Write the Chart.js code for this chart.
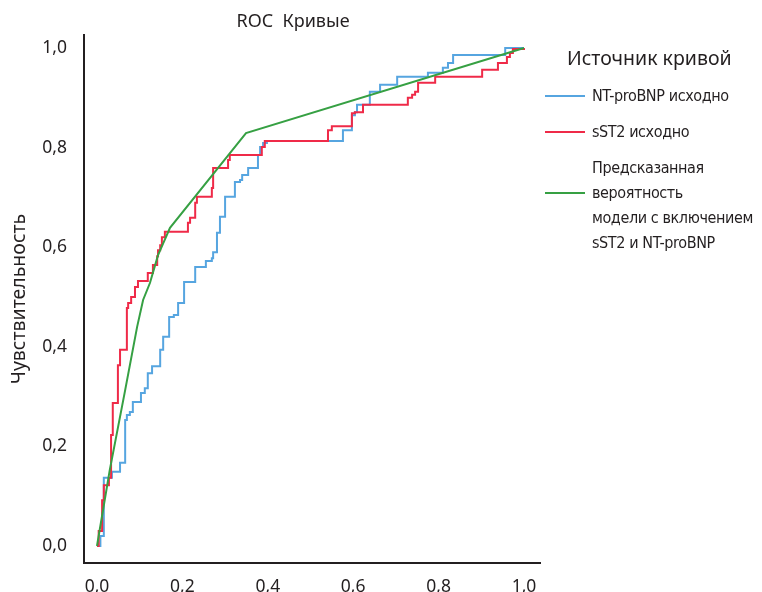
<!DOCTYPE html>
<html>
<head>
<meta charset="utf-8">
<script src="https://cdn.jsdelivr.net/npm/chart.js@4.4.1/dist/chart.umd.min.js"></script>
<style>
  html, body { margin: 0; padding: 0; background: #fff; }
  #wrap { position: relative; width: 762px; height: 592px; }
  #legend { position: absolute; left: 545px; top: 45px; color: #231f20; }
  #legend .lg-title { font-family: "Noto Sans", "Open Sans", sans-serif; font-size: 19.5px; line-height: 26px; margin-left: 22px; margin-bottom: 12px; }
  #legend .item { position: relative; margin-bottom: 11px; }
  #legend .swatch { position: absolute; left: 0; width: 40px; height: 2px; }
  #legend .text { margin-left: 47px; font-family: "Liberation Sans Narrow", "DejaVu Sans Condensed", Roboto, sans-serif; font-size: 16px; letter-spacing: -0.4px; line-height: 25px; }
</style>
</head>
<body>
<div id="wrap">
  <canvas id="rocChart" width="762" height="592"></canvas>
  <div id="legend"></div>
</div>
<script>
const tickValues = [0, 0.2, 0.4, 0.6, 0.8, 1.0];

const ntProBnpFpr = [0, 0.008, 0.016, 0.035, 0.054, 0.066, 0.070, 0.077, 0.084, 0.103, 0.112, 0.119, 0.129, 0.148, 0.155, 0.169, 0.180, 0.190, 0.204, 0.230, 0.255, 0.269, 0.272, 0.281, 0.288, 0.300, 0.323, 0.335, 0.340, 0.354, 0.377, 0.382, 0.389, 0.398, 0.576, 0.597, 0.604, 0.609, 0.639, 0.663, 0.703, 0.775, 0.810, 0.822, 0.834, 0.956, 1.0];
const ntProBnpTpr = [0, 0.020, 0.137, 0.149, 0.167, 0.253, 0.263, 0.269, 0.289, 0.307, 0.317, 0.347, 0.361, 0.394, 0.420, 0.460, 0.464, 0.488, 0.530, 0.560, 0.572, 0.578, 0.590, 0.629, 0.661, 0.701, 0.731, 0.735, 0.745, 0.759, 0.785, 0.801, 0.809, 0.813, 0.835, 0.865, 0.871, 0.886, 0.912, 0.926, 0.942, 0.950, 0.960, 0.970, 0.986, 1.0, 1.0];

const sst2Fpr = [0, 0.004, 0.012, 0.016, 0.028, 0.033, 0.037, 0.049, 0.054, 0.070, 0.073, 0.080, 0.089, 0.096, 0.119, 0.131, 0.141, 0.143, 0.148, 0.152, 0.159, 0.213, 0.218, 0.230, 0.234, 0.269, 0.272, 0.307, 0.311, 0.386, 0.393, 0.541, 0.550, 0.597, 0.604, 0.623, 0.728, 0.738, 0.745, 0.752, 0.792, 0.902, 0.939, 0.960, 0.967, 0.974, 1.0];
const sst2Tpr = [0, 0.030, 0.092, 0.122, 0.137, 0.223, 0.287, 0.363, 0.394, 0.478, 0.488, 0.500, 0.520, 0.532, 0.548, 0.564, 0.582, 0.594, 0.604, 0.620, 0.631, 0.649, 0.659, 0.689, 0.701, 0.719, 0.759, 0.775, 0.785, 0.801, 0.813, 0.835, 0.843, 0.869, 0.871, 0.886, 0.900, 0.906, 0.912, 0.930, 0.942, 0.956, 0.970, 0.982, 0.990, 0.998, 1.0];

const modelFpr = [0, 0.030, 0.066, 0.094, 0.108, 0.124, 0.143, 0.171, 0.349, 1.0];
const modelTpr = [0, 0.153, 0.313, 0.440, 0.494, 0.528, 0.584, 0.639, 0.829, 1.0];

const seriesLabels = ['NT-proBNP исходно', 'sST2 исходно', 'Предсказанная вероятность модели с включением sST2 и NT-proBNP'];
const legendLines = [
  ['NT-proBNP исходно'],
  ['sST2 исходно'],
  ['Предсказанная', 'вероятность', 'модели с включением', 'sST2 и NT-proBNP']
];
const seriesColors = ['#56a5e0', '#ef2a48', '#36a043'];

function toPoints(xs, ys) {
  return xs.map((x, i) => ({ x: x, y: ys[i] }));
}

const fmt = v => v.toFixed(1).replace('.', ',');

const titlePlugin = {
  id: 'rocTitle',
  afterDraw(chart) {
    const ctx = chart.ctx;
    ctx.save();
    ctx.font = '18px "Noto Sans", "Open Sans", sans-serif';
    ctx.fillStyle = '#231f20';
    ctx.textAlign = 'center';
    ctx.textBaseline = 'middle';
    ctx.fillText('ROC  Кривые', 293, 22);
    ctx.restore();
  }
};

const axisFont = { family: '"Noto Sans", "Open Sans", sans-serif', size: 17.5 };

const chart = new Chart('rocChart', {
  type: 'line',
  data: {
    datasets: [
      {
        label: seriesLabels[0],
        data: toPoints(ntProBnpFpr, ntProBnpTpr),
        borderColor: seriesColors[0],
        stepped: 'before',
        order: 3
      },
      {
        label: seriesLabels[1],
        data: toPoints(sst2Fpr, sst2Tpr),
        borderColor: seriesColors[1],
        stepped: 'before',
        order: 2
      },
      {
        label: seriesLabels[2],
        data: toPoints(modelFpr, modelTpr),
        borderColor: seriesColors[2],
        order: 1
      }
    ]
  },
  options: {
    responsive: false,
    animation: false,
    devicePixelRatio: 1,
    layout: { padding: { left: 0, top: 35, right: 222, bottom: 0 } },
    elements: {
      point: { radius: 0 },
      line: { borderWidth: 2, fill: false, tension: 0 }
    },
    plugins: {
      legend: { display: false },
      tooltip: { enabled: false }
    },
    scales: {
      x: {
        type: 'linear',
        min: -0.0304,
        max: 1.0375,
        afterBuildTicks: s => { s.ticks = tickValues.map(v => ({ value: v })); },
        afterFit: s => { s.height = 29; },
        grid: { display: false },
        border: { display: true, color: '#231f20', width: 2 },
        ticks: { padding: 6, color: '#231f20', font: axisFont, maxRotation: 0, callback: v => fmt(v) }
      },
      y: {
        type: 'linear',
        min: -0.0341,
        max: 1.026,
        afterBuildTicks: s => { s.ticks = tickValues.map(v => ({ value: v })); },
        afterFit: s => { s.width = 84; },
        grid: { display: false },
        border: { display: true, color: '#231f20', width: 2 },
        title: {
          display: true,
          text: 'Чувствительность',
          color: '#231f20',
          font: { family: '"Noto Sans", "Open Sans", sans-serif', size: 19.5 },
          padding: { top: 8, bottom: 0 }
        },
        ticks: { padding: 9, color: '#231f20', font: axisFont, callback: v => fmt(v) }
      }
    }
  },
  plugins: [titlePlugin]
});

// legend built from the datasets
const legendEl = document.getElementById('legend');
let html = '<div class="lg-title">Источник кривой</div>';
chart.data.datasets.forEach((ds, i) => {
  const lines = legendLines[i];
  const swLine = Math.floor((lines.length - 1) / 2);
  html += '<div class="item"><span class="swatch" style="background:' + ds.borderColor +
    ';top:' + (swLine * 25 + 11.5) + 'px"></span><div class="text">' + lines.join('<br>') + '</div></div>';
});
legendEl.innerHTML = html;
</script>
</body>
</html>
